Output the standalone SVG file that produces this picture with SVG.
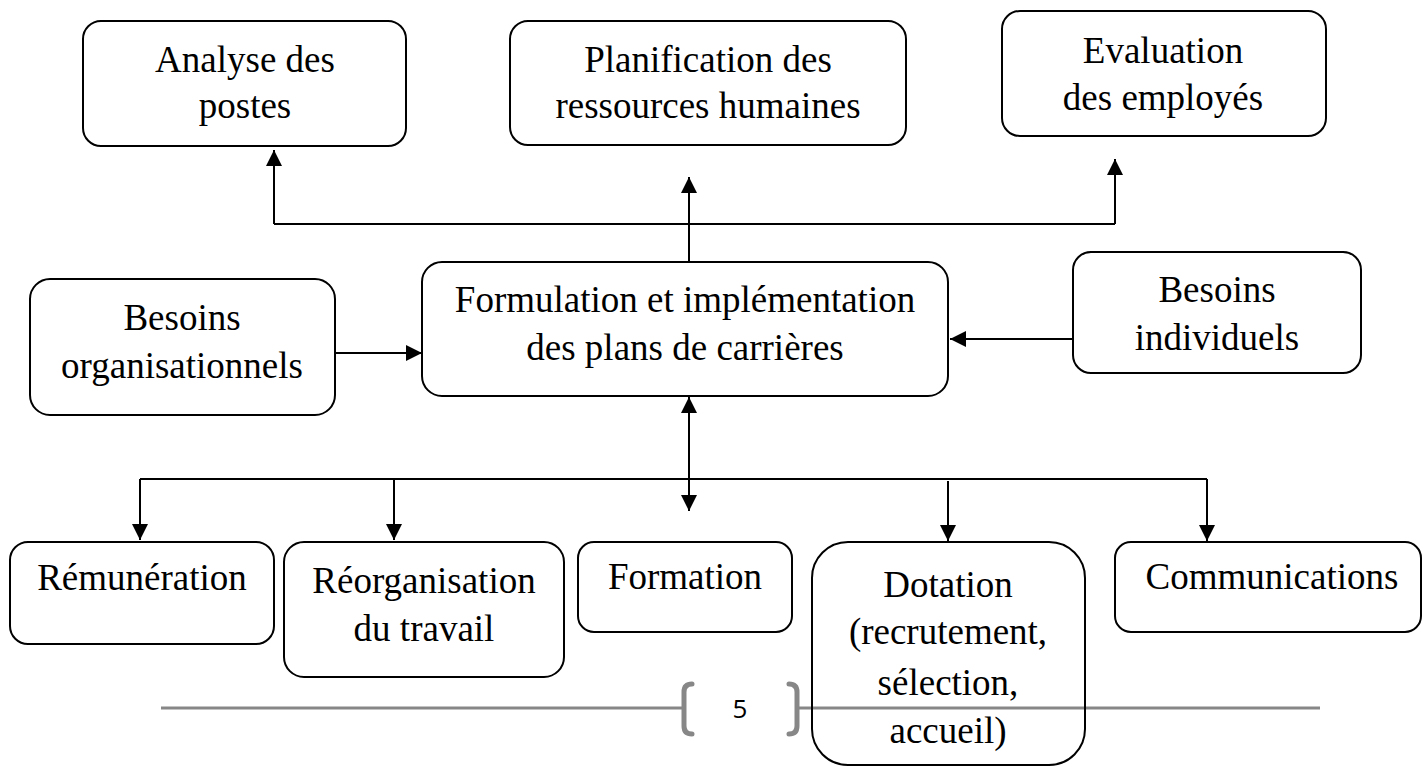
<svg xmlns="http://www.w3.org/2000/svg" width="1423" height="767" viewBox="0 0 1423 767">
<style>
.box{fill:#fff;stroke:#000;stroke-width:2}
.t{font-family:"Liberation Serif","Times New Roman",serif;font-size:37px;fill:#000;text-anchor:middle}
.c{fill:none;stroke:#000;stroke-width:2}
.f{fill:none;stroke:#878787}
</style>
<defs>
<marker id="ah" markerUnits="userSpaceOnUse" markerWidth="16" markerHeight="16" viewBox="0 0 16 16" refX="16" refY="8" orient="auto-start-reverse">
<path d="M0,0 L16,8 L0,16 z" fill="#000"/>
</marker>
</defs>
<rect width="1423" height="767" fill="#fff"/>

<g id="connectors">
<path class="c" d="M274,224 L1115,224"/>
<path class="c" d="M274,224 L274,150" marker-end="url(#ah)"/>
<path class="c" d="M1115,224 L1115,159" marker-end="url(#ah)"/>
<path class="c" d="M689,262 L689,177" marker-end="url(#ah)"/>
<path class="c" d="M335,353 L422,353" marker-end="url(#ah)"/>
<path class="c" d="M1073,339 L950,339" marker-end="url(#ah)"/>
<path class="c" d="M689,397 L689,511" marker-start="url(#ah)" marker-end="url(#ah)"/>
<path class="c" d="M140,479 L1207,479"/>
<path class="c" d="M140,479 L140,540" marker-end="url(#ah)"/>
<path class="c" d="M394,479 L394,540" marker-end="url(#ah)"/>
<path class="c" d="M948,481 L948,541" marker-end="url(#ah)"/>
<path class="c" d="M1207,479 L1207,541" marker-end="url(#ah)"/>
</g>

<g id="n-analyse">
<rect class="box" x="83" y="21" width="323" height="125" rx="18"/>
<text class="t"><tspan x="245" y="72">Analyse des</tspan><tspan x="245" y="118">postes</tspan></text>
</g>
<g id="n-planification">
<rect class="box" x="510" y="21" width="396" height="124" rx="18"/>
<text class="t"><tspan x="708" y="72">Planification des</tspan><tspan x="708" y="118">ressources humaines</tspan></text>
</g>
<g id="n-evaluation">
<rect class="box" x="1002" y="11" width="324" height="125" rx="18"/>
<text class="t"><tspan x="1163" y="63">Evaluation</tspan><tspan x="1163" y="110">des employés</tspan></text>
</g>
<g id="n-besoins-org">
<rect class="box" x="30" y="279" width="305" height="136" rx="20"/>
<text class="t"><tspan x="182" y="330">Besoins</tspan><tspan x="182" y="378">organisationnels</tspan></text>
</g>
<g id="n-formulation">
<rect class="box" x="422" y="262" width="526" height="134" rx="20"/>
<text class="t"><tspan x="685" y="312">Formulation et implémentation</tspan><tspan x="685" y="360">des plans de carrières</tspan></text>
</g>
<g id="n-besoins-ind">
<rect class="box" x="1073" y="252" width="288" height="121" rx="18"/>
<text class="t"><tspan x="1217" y="302">Besoins</tspan><tspan x="1217" y="350">individuels</tspan></text>
</g>
<g id="n-remuneration">
<rect class="box" x="10" y="542" width="264" height="102" rx="18"/>
<text class="t" x="142" y="590">Rémunération</text>
</g>
<g id="n-reorganisation">
<rect class="box" x="284" y="542" width="280" height="135" rx="20"/>
<text class="t"><tspan x="424" y="593">Réorganisation</tspan><tspan x="424" y="641">du travail</tspan></text>
</g>
<g id="n-formation">
<rect class="box" x="578" y="542" width="214" height="90" rx="16"/>
<text class="t" x="685" y="589">Formation</text>
</g>
<g id="n-communications">
<rect class="box" x="1115" y="542" width="306" height="90" rx="16"/>
<text class="t" x="1272" y="589">Communications</text>
</g>

<g id="footer">
<path class="f" stroke-width="3" d="M161,708 L683,708 M797,708 L1320,708"/>
<path class="f" stroke-width="5" stroke-linecap="round" d="M692,684 Q684,684 684,692 L684,726 Q684,734 692,734"/>
<path class="f" stroke-width="5" stroke-linecap="round" d="M789,684 Q797,684 797,692 L797,726 Q797,734 789,734"/>
<text x="740" y="718" font-family="'Open Sans','Liberation Sans',sans-serif" font-size="26" fill="#000" text-anchor="middle">5</text>
</g>

<g id="n-dotation">
<rect class="box" x="812" y="542" width="273" height="223" rx="36" style="fill:none"/>
<text class="t"><tspan x="948" y="597">Dotation</tspan><tspan x="948" y="644">(recrutement,</tspan><tspan x="948" y="695">sélection,</tspan><tspan x="948" y="743">accueil)</tspan></text>
</g>
</svg>
